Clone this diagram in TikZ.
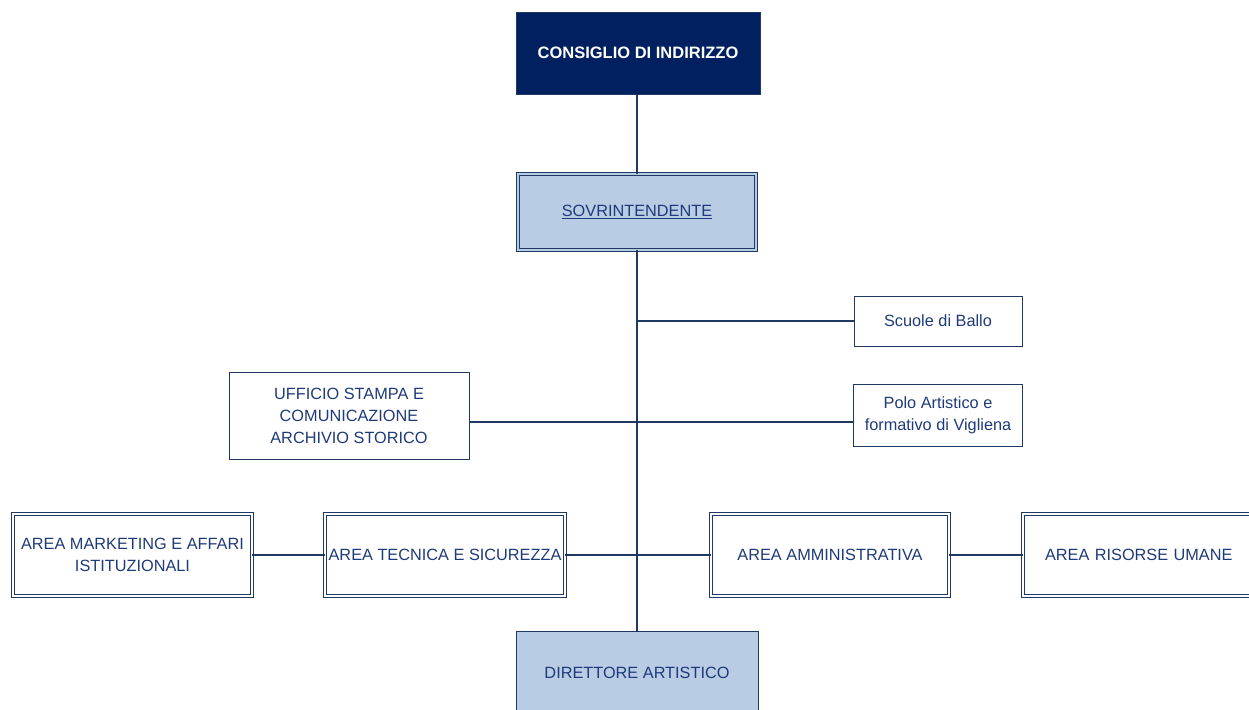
\documentclass[tikz,border=0pt]{standalone}
\usepackage{fontspec}
\setmainfont{Liberation Sans}
\definecolor{navy}{HTML}{002060}
\definecolor{edge}{HTML}{1F3864}
\definecolor{txt}{HTML}{1F3A7A}
\definecolor{lightblue}{HTML}{B8CCE4}
\begin{document}
\begin{tikzpicture}[x=1pt,y=-1pt,
  base/.style={rectangle, inner sep=0pt, align=center, text=txt,
    font=\fontsize{16.3}{22}\selectfont},
  single/.style={base, draw=edge, line width=1pt},
  dbl/.style={base, draw=edge, line width=0.9pt, double=white, double distance=1.6pt},
  conn/.style={draw=edge, line width=1.2pt}
]
\useasboundingbox (0,0) rectangle (1249,709);
\clip (0,0) rectangle (1249,709);
\node[base, fill=navy, draw=edge, line width=0.8pt, minimum width=244, minimum height=82, text=white,
  font=\fontsize{16.5}{19}\bfseries\selectfont] (cons) at (638,53) {CONSIGLIO DI INDIRIZZO};
\node[dbl, fill=lightblue, double=lightblue, minimum width=238, minimum height=76] (sov) at (637,212) {\underline{SOVRINTENDENTE}};
\node[single, minimum width=168, minimum height=50] (scu) at (938,321) {Scuole di Ballo};
\node[single, minimum width=169, minimum height=62] (polo) at (938,415.5) {Polo Artistico e\\formativo di Vigliena};
\node[single, minimum width=240, minimum height=87] (uff) at (349,416) {UFFICIO STAMPA E\\COMUNICAZIONE\\ARCHIVIO STORICO};
\node[dbl, minimum width=239, minimum height=82] (mkt) at (132.5,555) {AREA MARKETING E AFFARI\\ISTITUZIONALI};
\node[dbl, minimum width=240, minimum height=82] (tec) at (445,555) {AREA TECNICA E SICUREZZA};
\node[dbl, minimum width=238, minimum height=82] (amm) at (830,555) {AREA AMMINISTRATIVA};
\node[dbl, minimum width=238, minimum height=82, text width=238, align=left] (ris) at (1142,555) {\hspace*{22pt}AREA RISORSE UMANE};
\node[single, fill=lightblue, minimum width=242, minimum height=84] (dir) at (637,673) {DIRETTORE ARTISTICO};
\coordinate (tS) at (637,321);
\draw[conn] (cons.south -| sov.north) -- (sov.north);
\draw[conn] (sov.south) -- (dir.north);
\draw[conn] (tS) -- (scu.west);
\draw[conn] ([yshift=-6pt]uff.east) -- ([yshift=-6.5pt]polo.west);
\draw[conn] (mkt.east) -- (tec.west);
\draw[conn] (tec.east) -- (amm.west);
\draw[conn] (amm.east) -- (ris.west);
\end{tikzpicture}
\end{document}
